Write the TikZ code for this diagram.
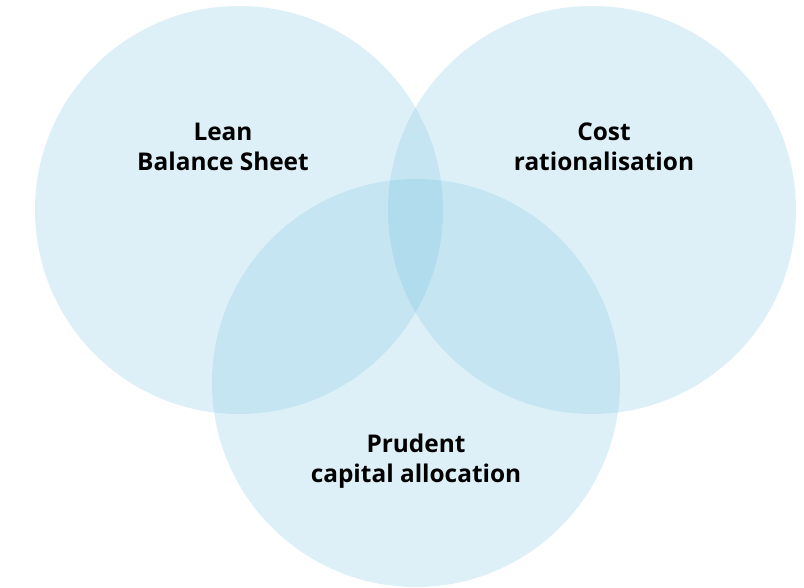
\documentclass[tikz,border=0pt]{standalone}
\usepackage{fontspec}
\setmainfont{Open Sans}
\usepackage{tikz}
\usetikzlibrary{positioning}

\definecolor{setblue}{RGB}{127,198,225}

\begin{document}
\begin{tikzpicture}[x=1pt, y=-1pt,
    setcircle/.style={circle, fill=setblue, fill opacity=0.265, minimum size=408pt, inner sep=0pt},
    setlabel/.style={align=center, font=\fontsize{24.4}{29.5}\selectfont\bfseries, text=black}]

% 画布
\useasboundingbox (0,0) rectangle (804,588);

% 三个圆
\node[setcircle] (lean) at (239,210) {};
\node[setcircle] (cost) at (592,210) {};
\node[setcircle] (prudent) at (416,383) {};

% 标注
\node[setlabel] (leanlabel) at (223,147) {Lean\\Balance Sheet};
\node[setlabel] (costlabel) at (604,147) {Cost\\rationalisation};
\node[setlabel] (prudentlabel) at (416,461) {Prudent\\capital allocation};

\end{tikzpicture}
\end{document}
